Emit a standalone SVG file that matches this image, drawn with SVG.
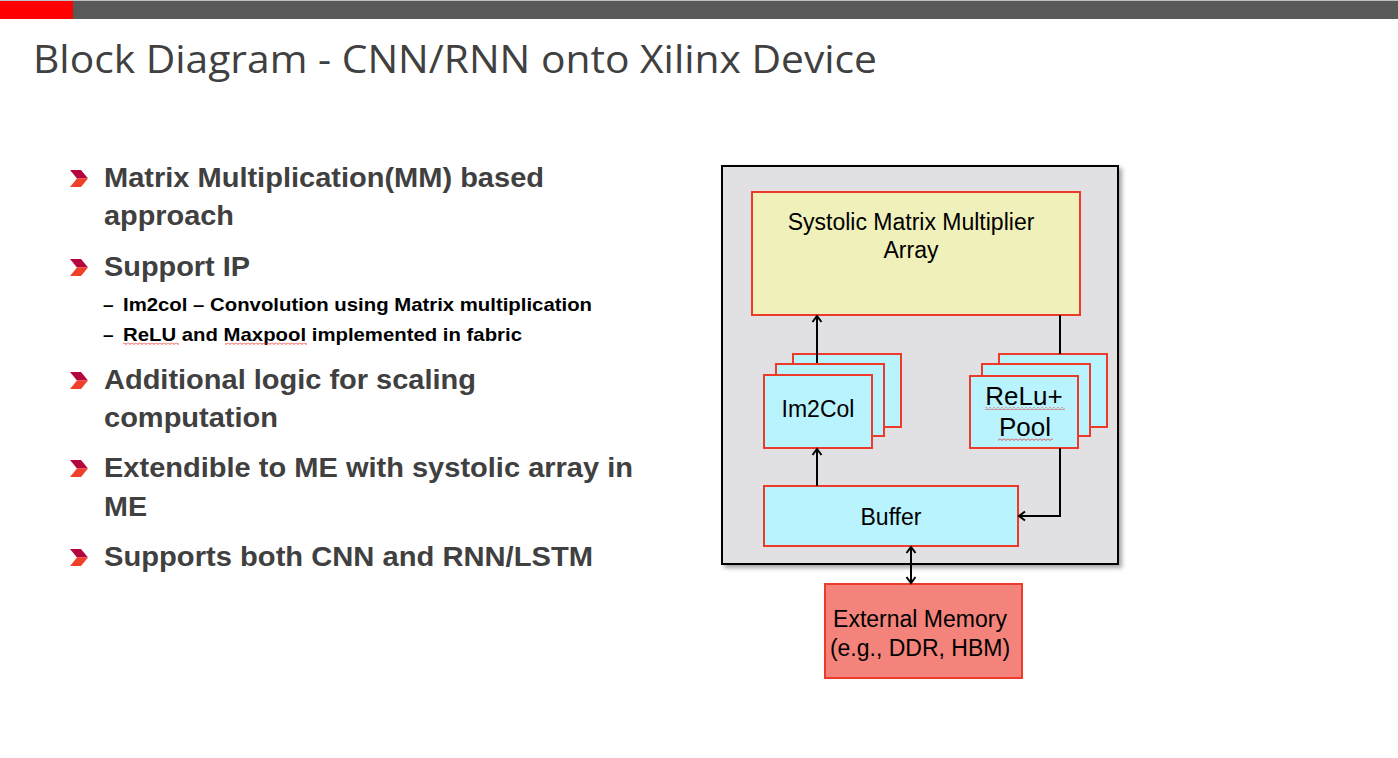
<svg xmlns="http://www.w3.org/2000/svg" width="1398" height="758" viewBox="0 0 1398 758">
<defs>
<style>
.title{font-family:"Open Sans","Noto Sans","Liberation Sans",sans-serif;font-size:39px;fill:#404040}
.b{font-family:"Liberation Sans",Arial,sans-serif;font-weight:bold;font-size:28px;fill:#404040}
.s{font-family:"Liberation Sans",Arial,sans-serif;font-weight:bold;font-size:19px;fill:#000}
.n{font-family:"Liberation Sans",Arial,sans-serif;fill:#000;text-anchor:middle;font-size:23px}
.big{font-size:26px}
.box{stroke:#ee3a2a;stroke-width:2}
.cyan{fill:#b9f3fd}
.conn{stroke:#000;stroke-width:2;fill:none}
</style>
<marker id="arr" markerUnits="userSpaceOnUse" markerWidth="12" markerHeight="12" refX="10" refY="6" orient="auto-start-reverse">
<path d="M4,1.5 L10,6 L4,10.5" fill="none" stroke="#000" stroke-width="2"/>
</marker>
<pattern id="sq" patternUnits="userSpaceOnUse" width="4" height="3">
<polyline points="0,0.5 2,2.5 4,0.5" fill="none" stroke="#e0302a" stroke-width="0.9"/>
</pattern>
<g id="chev">
<polygon points="0,0 11,0 18,8.5 7,8.5" fill="#b4053c"/>
<polygon points="7,8.5 18,8.5 11,17 0,17" fill="#f0402a"/>
</g>
<filter id="sh" x="-5%" y="-5%" width="115%" height="115%">
<feDropShadow dx="3" dy="3" stdDeviation="2" flood-color="#000" flood-opacity="0.35"/>
</filter>
</defs>

<rect x="0" y="0" width="1398" height="758" fill="#fff"/>
<g id="header">
<rect x="0" y="0" width="1398" height="1" fill="#bfbfbf"/>
<rect x="0" y="1" width="73" height="18" fill="#ff0000"/>
<rect x="73" y="1" width="1325" height="18" fill="#595959"/>
<text class="title" x="33" y="73" textLength="844" lengthAdjust="spacingAndGlyphs">Block Diagram - CNN/RNN onto Xilinx Device</text>
</g>

<g id="bullets">
<use href="#chev" x="70" y="170"/>
<text class="b" x="104" y="187" textLength="440" lengthAdjust="spacingAndGlyphs">Matrix Multiplication(MM) based</text>
<text class="b" x="104" y="225" textLength="130" lengthAdjust="spacingAndGlyphs">approach</text>
<use href="#chev" x="70" y="259"/>
<text class="b" x="104" y="276" textLength="146" lengthAdjust="spacingAndGlyphs">Support IP</text>
<text class="s" x="103" y="311">–</text>
<text class="s" x="123" y="311" textLength="469" lengthAdjust="spacingAndGlyphs">Im2col – Convolution using Matrix multiplication</text>
<text class="s" x="103" y="341">–</text>
<text class="s" x="123" y="341" textLength="399" lengthAdjust="spacingAndGlyphs">ReLU and Maxpool implemented in fabric</text>
<rect x="123" y="342.5" width="56" height="3" fill="url(#sq)"/>
<rect x="225" y="342.5" width="82" height="3" fill="url(#sq)"/>
<use href="#chev" x="70" y="372"/>
<text class="b" x="104" y="389" textLength="372" lengthAdjust="spacingAndGlyphs">Additional logic for scaling</text>
<text class="b" x="104" y="427" textLength="174" lengthAdjust="spacingAndGlyphs">computation</text>
<use href="#chev" x="70" y="460"/>
<text class="b" x="104" y="477" textLength="529" lengthAdjust="spacingAndGlyphs">Extendible to ME with systolic array in</text>
<text class="b" x="104" y="516" textLength="43" lengthAdjust="spacingAndGlyphs">ME</text>
<use href="#chev" x="70" y="549"/>
<text class="b" x="104" y="566" textLength="489" lengthAdjust="spacingAndGlyphs">Supports both CNN and RNN/LSTM</text>
</g>

<g id="device">
<rect x="722" y="166" width="396" height="398" fill="#e1e1e3" stroke="#000" stroke-width="2" filter="url(#sh)"/>
</g>

<g id="systolic">
<rect class="box" x="752" y="192" width="328" height="123" fill="#f0f0bb"/>
<text class="n" x="911" y="230">Systolic Matrix Multiplier</text>
<text class="n" x="911" y="258">Array</text>
</g>

<g id="im2col">
<rect class="box cyan" x="793" y="354" width="108" height="73"/>
<rect class="box cyan" x="776" y="364" width="108" height="72"/>
<rect class="box cyan" x="764" y="375" width="108" height="73"/>
<text class="n" x="818" y="417">Im2Col</text>
</g>

<g id="relu">
<rect class="box cyan" x="999" y="354" width="108" height="73"/>
<rect class="box cyan" x="982" y="364" width="108" height="72"/>
<rect class="box cyan" x="970" y="376" width="108" height="72"/>
<text class="n big" x="1024" y="405">ReLu+</text>
<text class="n big" x="1025" y="436">Pool</text>
<rect x="985" y="407" width="80" height="3" fill="url(#sq)"/>
<rect x="998" y="438" width="55" height="3" fill="url(#sq)"/>
</g>

<g id="buffer">
<rect class="box cyan" x="764" y="486" width="254" height="60"/>
<text class="n" x="891" y="525">Buffer</text>
</g>

<g id="extmem">
<rect class="box" x="825" y="584" width="197" height="94" fill="#f4837b"/>
<text class="n" x="920" y="627">External Memory</text>
<text class="n" x="920" y="656">(e.g., DDR, HBM)</text>
</g>

<g id="connectors">
<line class="conn" x1="817" y1="363" x2="817" y2="316" marker-end="url(#arr)"/>
<line class="conn" x1="817" y1="486" x2="817" y2="449" marker-end="url(#arr)"/>
<line class="conn" x1="1060" y1="315" x2="1060" y2="354"/>
<polyline class="conn" points="1060,448 1060,516 1019,516" marker-end="url(#arr)"/>
<line class="conn" x1="911" y1="547" x2="911" y2="583" marker-start="url(#arr)" marker-end="url(#arr)"/>
</g>
</svg>
